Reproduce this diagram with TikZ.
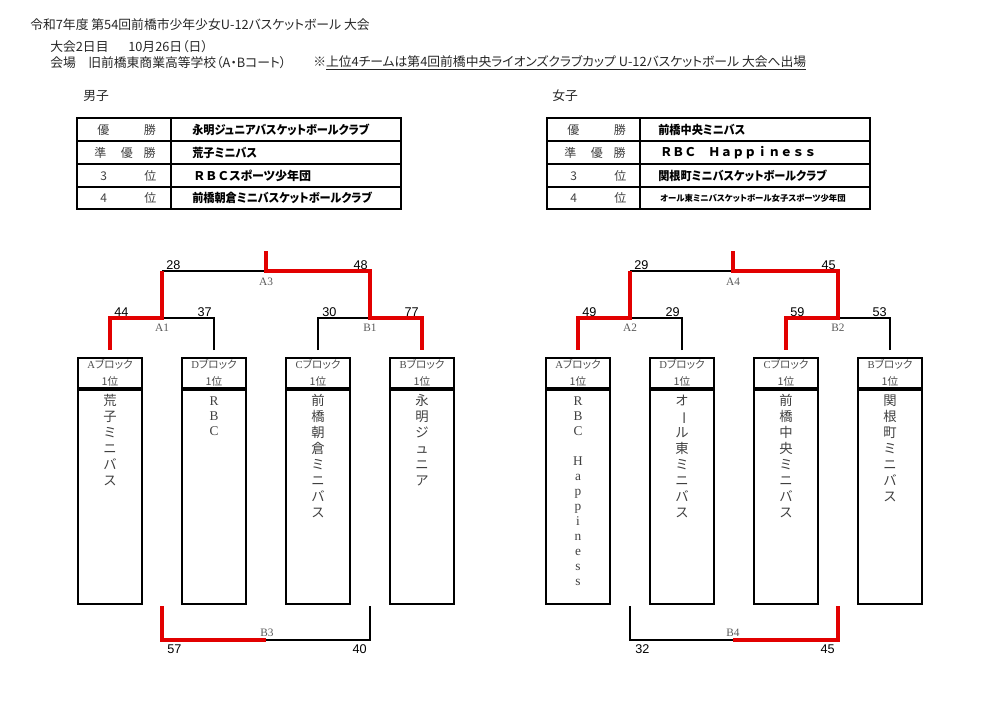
\documentclass[tikz,border=0pt]{standalone}
\usepackage{graphicx}
\usepackage{fontspec}
\setmainfont{Liberation Serif}
\newfontfamily\jp{Noto Sans CJK JP}
\newfontfamily\jpp[RawFeature=+palt]{Noto Sans CJK JP}
\newfontfamily\jpn[RawFeature=+palt,FakeStretch=0.93]{Noto Sans CJK JP}
\newfontfamily\arial{Liberation Sans}
\definecolor{winred}{RGB}{226,0,0}
\newcommand\vstack[2][12pt]{\parbox[c][160.5pt][t]{44pt}{\centering\baselineskip=#1\relax\rule{0pt}{11.25pt}#2\par}}
\newcommand\vbar{\rotatebox[origin=c]{-90}{ー}}
\begin{document}
\begin{tikzpicture}[x=0.75pt,y=-0.75pt,
  brk/.style={line width=1.5pt,black},
  win/.style={line width=3pt,winred},
  tbl/.style={line width=1.6pt},
  boxtop/.style={draw,line width=1.6pt,minimum width=48pt,minimum height=22.5pt,inner sep=0pt,align=center,font=\jpp\fontsize{8pt}{12.5pt}\selectfont,text=black!70},
  boxbody/.style={draw,line width=1.6pt,minimum width=48pt,inner sep=0pt,anchor=north,font=\jp\fontsize{10pt}{12pt}\selectfont,text=black!75},
  score/.style={font=\arial\fontsize{9.5pt}{11pt}\selectfont,inner sep=0pt},
  game/.style={font=\fontsize{8.5pt}{10pt}\selectfont,text=black!65,inner sep=0pt},
  hdr/.style={anchor=west,inner sep=0pt,font=\jpp\fontsize{9.6pt}{11pt}\selectfont,text=black!85},
  rank/.style={anchor=west,inner sep=0pt,font=\jp\fontsize{9pt}{11pt}\selectfont,text=black!75},
  team/.style={anchor=west,inner sep=0pt,font=\jpn\bfseries\fontsize{9pt}{11pt}\selectfont}
]
\useasboundingbox (0,0) rectangle (983,701);

% ---------- header ----------
\node[hdr] (title) at (30,25) {令和7年度 第54回前橋市少年少女U-12バスケットボール 大会};
\node[hdr] (day) at (50,47) {大会2日目};
\node[hdr] (date) at (128,47) {10月26日（日）};
\node[hdr] (venuel) at (50,63) {会場};
\node[hdr] (venue) at (88,63) {旧前橋東商業高等学校（A・Bコート）};
\node[hdr] (note) at (313,63) {※\underline{上位4チームは第4回前橋中央ライオンズクラブカップ U-12バスケットボール 大会へ出場}};
\node[hdr] (boys) at (83,96) {男子};
\node[hdr] (girls) at (552,96) {女子};

% ---------- result tables ----------
\draw[tbl] (77,118) rectangle (401,209);
\draw[tbl] (77,141) -- (401,141) (77,164) -- (401,164) (77,187) -- (401,187) (171,118) -- (171,209);
\node[rank] (ml1) at (97,129.5) {優\hspace{26pt}勝};
\node[rank] (ml2) at (94,152.5) {準\hspace{11pt}優\hspace{8pt}勝};
\node[rank] (ml3) at (100,175.5) {3\hspace{28pt}位};
\node[rank] (ml4) at (100,198) {4\hspace{28pt}位};
\node[team] (mt1) at (192,129.5) {永明ジュニアバスケットボールクラブ};
\node[team] (mt2) at (192,152.5) {荒子ミニバス};
\node[team,font=\jpp\bfseries\fontsize{9pt}{11pt}\selectfont] (mt3) at (193,175.5) {{\jp ＲＢＣ}スポーツ少年団};
\node[team] (mt4) at (192,198) {前橋朝倉ミニバスケットボールクラブ};

\draw[tbl] (547,118) rectangle (870,209);
\draw[tbl] (547,141) -- (870,141) (547,164) -- (870,164) (547,187) -- (870,187) (640,118) -- (640,209);
\node[rank] (fl1) at (567,129.5) {優\hspace{26pt}勝};
\node[rank] (fl2) at (564,152.5) {準\hspace{11pt}優\hspace{8pt}勝};
\node[rank] (fl3) at (570,175.5) {3\hspace{28pt}位};
\node[rank] (fl4) at (570,198) {4\hspace{28pt}位};
\node[team] (ft1) at (658,129.5) {前橋中央ミニバス};
\node[team,font=\jp\bfseries\fontsize{9pt}{11pt}\selectfont] (ft2) at (660,152.5) {ＲＢＣ　Ｈａｐｐｉｎｅｓｓ};
\node[team] (ft3) at (658,175.5) {関根町ミニバスケットボールクラブ};
\node[team,font=\jpp\bfseries\fontsize{6.3pt}{8pt}\selectfont] (ft4) at (660,198) {オール東ミニバスケットボール女子スポーツ少年団};

% ---------- boys boxes ----------
\node[boxtop] (mAh) at (110,373) {{\rmfamily A}ブロック\\1位};
\node[boxbody] (mAb) at (mAh.south) {\vstack{荒\\子\\ミ\\ニ\\バ\\ス}};
\node[boxtop] (mDh) at (214,373) {{\rmfamily D}ブロック\\1位};
\node[boxbody] (mDb) at (mDh.south) {\vstack[11.25pt]{\rmfamily R\\B\\C}};
\node[boxtop] (mCh) at (318,373) {{\rmfamily C}ブロック\\1位};
\node[boxbody] (mCb) at (mCh.south) {\vstack{前\\橋\\朝\\倉\\ミ\\ニ\\バ\\ス}};
\node[boxtop] (mBh) at (422,373) {{\rmfamily B}ブロック\\1位};
\node[boxbody] (mBb) at (mBh.south) {\vstack{永\\明\\ジ\\ュ\\ニ\\ア}};

% ---------- girls boxes ----------
\node[boxtop] (fAh) at (578,373) {{\rmfamily A}ブロック\\1位};
\node[boxbody] (fAb) at (fAh.south) {\vstack[11.25pt]{\rmfamily R\\B\\C\\\mbox{}\\H\\a\\p\\p\\i\\n\\e\\s\\s}};
\node[boxtop] (fDh) at (682,373) {{\rmfamily D}ブロック\\1位};
\node[boxbody] (fDb) at (fDh.south) {\vstack{オ\\\vbar\\ル\\東\\ミ\\ニ\\バ\\ス}};
\node[boxtop] (fCh) at (786,373) {{\rmfamily C}ブロック\\1位};
\node[boxbody] (fCb) at (fCh.south) {\vstack{前\\橋\\中\\央\\ミ\\ニ\\バ\\ス}};
\node[boxtop] (fBh) at (890,373) {{\rmfamily B}ブロック\\1位};
\node[boxbody] (fBb) at (fBh.south) {\vstack{関\\根\\町\\ミ\\ニ\\バ\\ス}};

% ---------- boys bracket ----------
\coordinate (mA) at (110,350);
\coordinate (mD) at (214,350);
\coordinate (mC) at (318,350);
\coordinate (mB) at (422,350);
\coordinate (mA1) at (162,318);
\coordinate (mB1) at (370,318);
\coordinate (mA3) at (266,271);
\coordinate (mTop) at (266,251);
\coordinate (mL3) at (162,606);
\coordinate (mR3) at (370,606);
\coordinate (mB3) at (266,640);

\draw[brk] (mD) |- (mA1);
\draw[brk] (mC) |- (mB1);
\draw[brk] (mA1 |- mA3) -- (mA3);
\draw[brk] (mB3) -| (mR3);
\draw[win] (mA) |- (mA1) -- (mA1 |- mA3);
\draw[win] (mTop) -- (mA3) -| (mB1) -| (mB);
\draw[win] (mL3) |- (mB3);

\node[score,anchor=base west] (s28) at (166,269) {28};
\node[score,anchor=base east] (s48) at (368,269) {48};
\node[score,anchor=base west] (s44) at (114,316) {44};
\node[score,anchor=base east] (s37) at (212,316) {37};
\node[score,anchor=base west] (s30) at (322,316) {30};
\node[score,anchor=base east] (s77) at (419,316) {77};
\node[score,anchor=base west] (s57) at (167,653) {57};
\node[score,anchor=base east] (s40) at (367,653) {40};
\node[game] (gA3) at (266,282) {A3};
\node[game] (gA1) at (162,328) {A1};
\node[game] (gB1) at (370,328) {B1};
\node[game] (gB3) at (267,633) {B3};

% ---------- girls bracket ----------
\coordinate (fA) at (578,350);
\coordinate (fD) at (682,350);
\coordinate (fC) at (786,350);
\coordinate (fB) at (890,350);
\coordinate (fA2) at (630,318);
\coordinate (fB2) at (838,318);
\coordinate (fA4) at (733,271);
\coordinate (fTop) at (733,251);
\coordinate (fL4) at (630,606);
\coordinate (fR4) at (838,606);
\coordinate (fB4) at (733,640);

\draw[brk] (fD) |- (fA2);
\draw[brk] (fB) |- (fB2);
\draw[brk] (fA2 |- fA4) -- (fA4);
\draw[brk] (fL4) |- (fB4);
\draw[win] (fA) |- (fA2) -- (fA2 |- fA4);
\draw[win] (fTop) -- (fA4) -| (fB2) -| (fC);
\draw[win] (fB4) -| (fR4);

\node[score,anchor=base west] (g29a) at (634,269) {29};
\node[score,anchor=base east] (g45a) at (836,269) {45};
\node[score,anchor=base west] (g49) at (582,316) {49};
\node[score,anchor=base east] (g29b) at (680,316) {29};
\node[score,anchor=base west] (g59) at (790,316) {59};
\node[score,anchor=base east] (g53) at (887,316) {53};
\node[score,anchor=base west] (g32) at (635,653) {32};
\node[score,anchor=base east] (g45b) at (835,653) {45};
\node[game] (gA4) at (733,282) {A4};
\node[game] (gA2) at (630,328) {A2};
\node[game] (gB2) at (838,328) {B2};
\node[game] (gB4) at (733,633) {B4};
\end{tikzpicture}
\end{document}
